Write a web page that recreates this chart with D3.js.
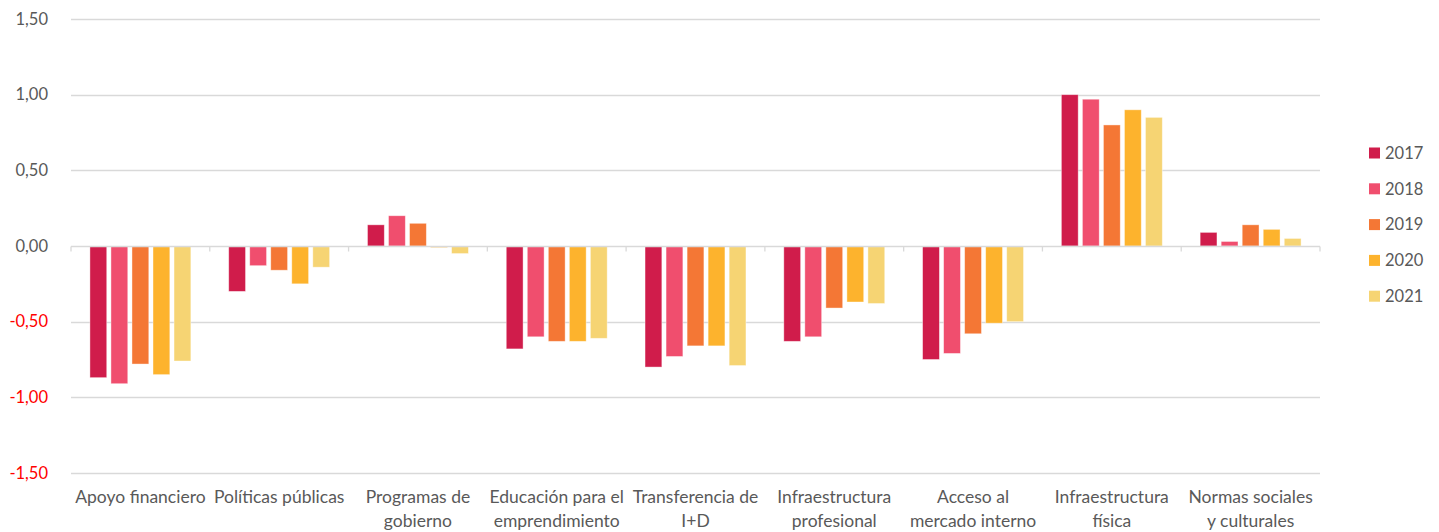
<!DOCTYPE html>
<html>
<head>
<meta charset="utf-8">
<script src="https://cdn.jsdelivr.net/npm/d3@7"></script>
<style>
  html, body { margin: 0; padding: 0; background: #fff; }
  svg text { font-family: Lato, "Open Sans", sans-serif; }
</style>
</head>
<body>
<svg id="chart" width="1439" height="532"></svg>
<script>
// Categories (line breaks mark where each label wraps)
const categories = [
  "Apoyo financiero",
  "Políticas públicas",
  "Programas de\ngobierno",
  "Educación para el\nemprendimiento",
  "Transferencia de\nI+D",
  "Infraestructura\nprofesional",
  "Acceso al\nmercado interno",
  "Infraestructura\nfísica",
  "Normas sociales\ny culturales"
];
const years = ["2017", "2018", "2019", "2020", "2021"];
const yearColors = ["#D01C4B", "#F04E6E", "#F47735", "#FDB32D", "#F6D473"];

const values2017 = [-0.87, -0.30, 0.14, -0.68, -0.80, -0.63, -0.75, 1.00, 0.09];
const values2018 = [-0.91, -0.13, 0.20, -0.60, -0.73, -0.60, -0.71, 0.97, 0.03];
const values2019 = [-0.78, -0.16, 0.15, -0.63, -0.66, -0.41, -0.58, 0.80, 0.14];
const values2020 = [-0.85, -0.25, -0.01, -0.63, -0.66, -0.37, -0.51, 0.90, 0.11];
const values2021 = [-0.76, -0.14, -0.05, -0.61, -0.79, -0.38, -0.50, 0.85, 0.05];
const seriesValues = [values2017, values2018, values2019, values2020, values2021];

const yTicks = [-1.5, -1.0, -0.5, 0, 0.5, 1.0, 1.5];

const svg = d3.select("#chart");
const plot = { left: 71, right: 1320, top: 19, bottom: 473 };

const x0 = d3.scaleBand()
  .domain(d3.range(categories.length))
  .range([plot.left, plot.right])
  .paddingInner(0).paddingOuter(0);

const x1 = d3.scaleBand()
  .domain(years)
  .range([0, x0.bandwidth()])
  .paddingOuter(0.9)
  .paddingInner(0.2);

const y = d3.scaleLinear().domain([-1.5, 1.5]).range([plot.bottom, plot.top]);

const fmt = v => d3.format(".2f")(v).replace(".", ",").replace("−", "-");

// Horizontal gridlines
svg.append("g")
  .selectAll("line")
  .data(yTicks.filter(t => t !== 0))
  .join("line")
  .attr("x1", plot.left).attr("x2", plot.right)
  .attr("y1", d => Math.round(y(d)) + 0.5).attr("y2", d => Math.round(y(d)) + 0.5)
  .attr("stroke", "#D9D9D9").attr("stroke-width", 1.3);

// Y tick labels (negatives in red)
svg.append("g")
  .selectAll("text")
  .data(yTicks)
  .join("text")
  .attr("x", 48)
  .attr("y", d => y(d))
  .attr("dy", "0.35em")
  .attr("text-anchor", "end")
  .attr("font-size", 16.5)
  .attr("fill", d => d < 0 ? "#FF0000" : "#595959")
  .text(d => fmt(d));

// Bars
const groups = svg.append("g")
  .selectAll("g")
  .data(categories.map((c, i) => i))
  .join("g")
  .attr("transform", i => `translate(${x0(i)},0)`);

groups.selectAll("rect")
  .data(i => years.map((yr, k) => ({ yr, k, v: seriesValues[k][i] })))
  .join("rect")
  .attr("x", d => x1(d.yr))
  .attr("width", x1.bandwidth())
  .attr("y", d => Math.min(y(d.v), y(0)))
  .attr("height", d => Math.abs(y(d.v) - y(0)))
  .attr("fill", d => yearColors[d.k])
  .attr("stroke", "#fff")
  .attr("stroke-opacity", 0.5)
  .attr("stroke-width", 0.8);

// Zero axis line with category tick marks
const zeroY = Math.round(y(0)) + 0.5;
svg.append("line")
  .attr("x1", plot.left).attr("x2", plot.right)
  .attr("y1", zeroY).attr("y2", zeroY)
  .attr("stroke", "#D9D9D9").attr("stroke-width", 1.3);
svg.append("g")
  .selectAll("line")
  .data(d3.range(categories.length + 1))
  .join("line")
  .attr("x1", i => i < categories.length ? x0(i) : plot.right)
  .attr("x2", i => i < categories.length ? x0(i) : plot.right)
  .attr("y1", zeroY).attr("y2", zeroY + 5)
  .attr("stroke", "#D9D9D9").attr("stroke-width", 1.3);

// Category labels
const labels = svg.append("g")
  .selectAll("text")
  .data(categories)
  .join("text")
  .attr("text-anchor", "middle")
  .attr("font-size", 17.5)
  .attr("fill", "#595959")
  .attr("transform", (d, i) => `translate(${x0(i) + x0.bandwidth() / 2},503)`);
labels.selectAll("tspan")
  .data(d => d.split("\n"))
  .join("tspan")
  .attr("x", 0)
  .attr("dy", (d, j) => j === 0 ? 0 : 23.5)
  .text(d => d);

// Legend
const legend = svg.append("g")
  .selectAll("g")
  .data(years)
  .join("g")
  .attr("transform", (d, k) => `translate(1369,${153 + k * 35.8})`);
legend.append("rect")
  .attr("x", 0).attr("y", -5.5).attr("width", 11).attr("height", 11)
  .attr("fill", (d, k) => yearColors[k]);
legend.append("text")
  .attr("x", 16).attr("y", 0).attr("dy", "0.35em")
  .attr("font-size", 16.5).attr("fill", "#595959")
  .text(d => d);
</script>
</body>
</html>
